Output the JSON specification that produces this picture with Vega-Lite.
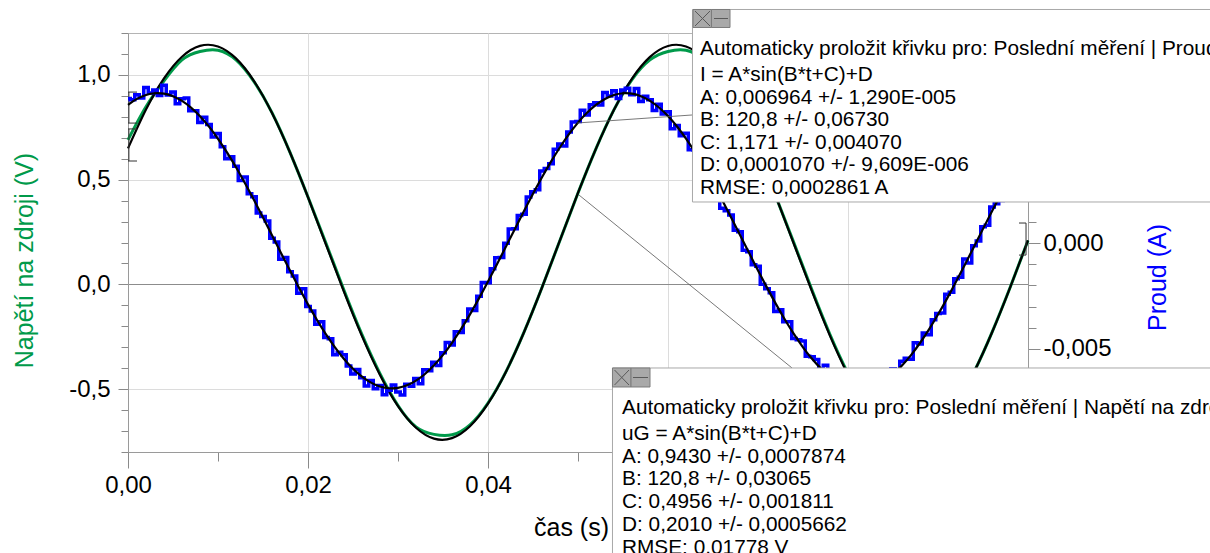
{
"$schema": "https://vega.github.io/schema/vega-lite/v6.json",
"width": 900,
"height": 419,
"autosize": {"type": "none"},
"padding": {"left": 128, "top": 33, "right": 182, "bottom": 101},
"background": "white",
"config": {
  "font": "Liberation Sans",
  "view": {"stroke": "#b4b4b4"},
  "axis": {"labelFont": "Liberation Sans", "titleFont": "Liberation Sans", "labelFontSize": 24, "titleFontSize": 25, "titleFontWeight": "normal", "labelColor": "#000000", "titleColor": "#000000", "tickColor": "#8a8a8a", "domainColor": "#9a9a9a", "gridColor": "#dcdcdc", "gridWidth": 1}
},
"datasets": {
  "volt": [{"t":0,"v":0.690},{"t":0.002,"v":0.848},{"t":0.004,"v":0.972},{"t":0.006,"v":1.072},{"t":0.008,"v":1.112},{"t":0.010,"v":1.118},{"t":0.012,"v":1.072},{"t":0.014,"v":0.968},{"t":0.016,"v":0.820},{"t":0.018,"v":0.630},{"t":0.020,"v":0.417},{"t":0.022,"v":0.196},{"t":0.024,"v":-0.028},{"t":0.026,"v":-0.240},{"t":0.028,"v":-0.426},{"t":0.030,"v":-0.578},{"t":0.032,"v":-0.680},{"t":0.034,"v":-0.716},{"t":0.036,"v":-0.718},{"t":0.038,"v":-0.670},{"t":0.040,"v":-0.566},{"t":0.042,"v":-0.416},{"t":0.044,"v":-0.228},{"t":0.046,"v":-0.015},{"t":0.048,"v":0.211},{"t":0.050,"v":0.436},{"t":0.052,"v":0.648},{"t":0.054,"v":0.834},{"t":0.056,"v":0.978},{"t":0.058,"v":1.072},{"t":0.060,"v":1.112},{"t":0.062,"v":1.118},{"t":0.064,"v":1.072},{"t":0.066,"v":0.968},{"t":0.068,"v":0.819},{"t":0.070,"v":0.631},{"t":0.072,"v":0.418},{"t":0.074,"v":0.197},{"t":0.076,"v":-0.027},{"t":0.078,"v":-0.239},{"t":0.080,"v":-0.425},{"t":0.082,"v":-0.577},{"t":0.084,"v":-0.679},{"t":0.086,"v":-0.716},{"t":0.088,"v":-0.718},{"t":0.090,"v":-0.671},{"t":0.092,"v":-0.566},{"t":0.094,"v":-0.418},{"t":0.096,"v":-0.229},{"t":0.098,"v":-0.016},{"t":0.100,"v":0.210}],
  "vfit": [{"t":0,"v":0.6494},{"t":0.002,"v":0.8349},{"t":0.004,"v":0.9836},{"t":0.006,"v":1.0867},{"t":0.008,"v":1.1384},{"t":0.010,"v":1.1357},{"t":0.012,"v":1.0787},{"t":0.014,"v":0.9707},{"t":0.016,"v":0.8180},{"t":0.018,"v":0.6294},{"t":0.020,"v":0.4160},{"t":0.022,"v":0.1901},{"t":0.024,"v":-0.0352},{"t":0.026,"v":-0.2468},{"t":0.028,"v":-0.4323},{"t":0.030,"v":-0.5812},{"t":0.032,"v":-0.6844},{"t":0.034,"v":-0.7363},{"t":0.036,"v":-0.7338},{"t":0.038,"v":-0.6769},{"t":0.040,"v":-0.5691},{"t":0.042,"v":-0.4166},{"t":0.044,"v":-0.2282},{"t":0.046,"v":-0.0148},{"t":0.048,"v":0.2112},{"t":0.050,"v":0.4365},{"t":0.052,"v":0.6482},{"t":0.054,"v":0.8338},{"t":0.056,"v":0.9827},{"t":0.058,"v":1.0862},{"t":0.060,"v":1.1382},{"t":0.062,"v":1.1359},{"t":0.064,"v":1.0792},{"t":0.066,"v":0.9716},{"t":0.068,"v":0.8191},{"t":0.070,"v":0.6308},{"t":0.072,"v":0.4174},{"t":0.074,"v":0.1916},{"t":0.076,"v":-0.0338},{"t":0.078,"v":-0.2455},{"t":0.080,"v":-0.4313},{"t":0.082,"v":-0.5804},{"t":0.084,"v":-0.6839},{"t":0.086,"v":-0.7362},{"t":0.088,"v":-0.7340},{"t":0.090,"v":-0.6775},{"t":0.092,"v":-0.5700},{"t":0.094,"v":-0.4178},{"t":0.096,"v":-0.2295},{"t":0.098,"v":-0.0162},{"t":0.100,"v":0.2097}],
  "cur": [{"t":0,"i":0.006822},{"t":0.0005,"i":0.006762},{"t":0.001,"i":0.007002},{"t":0.0015,"i":0.006843},{"t":0.002,"i":0.007334},{"t":0.0025,"i":0.007075},{"t":0.003,"i":0.007216},{"t":0.0035,"i":0.006957},{"t":0.004,"i":0.007447},{"t":0.0045,"i":0.006987},{"t":0.005,"i":0.007126},{"t":0.0055,"i":0.006566},{"t":0.006,"i":0.006806},{"t":0.0065,"i":0.006848},{"t":0.007,"i":0.00624},{"t":0.0075,"i":0.006237},{"t":0.008,"i":0.005683},{"t":0.0085,"i":0.005937},{"t":0.009,"i":0.00559},{"t":0.0095,"i":0.005004},{"t":0.01,"i":0.005168},{"t":0.0105,"i":0.004547},{"t":0.011,"i":0.003975},{"t":0.0115,"i":0.004075},{"t":0.012,"i":0.003624},{"t":0.0125,"i":0.002947},{"t":0.013,"i":0.00312},{"t":0.0135,"i":0.002324},{"t":0.014,"i":0.002178},{"t":0.0145,"i":0.001418},{"t":0.015,"i":0.001257},{"t":0.0155,"i":0.001039},{"t":0.016,"i":0.00022},{"t":0.0165,"i":0.00005},{"t":0.017,"i":-0.00077},{"t":0.0175,"i":-0.000686},{"t":0.018,"i":-0.001352},{"t":0.0185,"i":-0.001558},{"t":0.019,"i":-0.002364},{"t":0.0195,"i":-0.002154},{"t":0.02,"i":-0.002993},{"t":0.0205,"i":-0.003211},{"t":0.021,"i":-0.003829},{"t":0.0215,"i":-0.00372},{"t":0.022,"i":-0.00446},{"t":0.0225,"i":-0.004519},{"t":0.023,"i":-0.005277},{"t":0.0235,"i":-0.005149},{"t":0.024,"i":-0.005271},{"t":0.0245,"i":-0.005802},{"t":0.025,"i":-0.006182},{"t":0.0255,"i":-0.005969},{"t":0.026,"i":-0.006356},{"t":0.0265,"i":-0.006746},{"t":0.027,"i":-0.006486},{"t":0.0275,"i":-0.006878},{"t":0.028,"i":-0.006719},{"t":0.0285,"i":-0.007161},{"t":0.029,"i":-0.006952},{"t":0.0295,"i":-0.006693},{"t":0.03,"i":-0.007033},{"t":0.0305,"i":-0.007174},{"t":0.031,"i":-0.006664},{"t":0.0315,"i":-0.006754},{"t":0.032,"i":-0.006394},{"t":0.0325,"i":-0.006637},{"t":0.033,"i":-0.005979},{"t":0.0335,"i":-0.006026},{"t":0.034,"i":-0.005622},{"t":0.0345,"i":-0.005776},{"t":0.035,"i":-0.00518},{"t":0.0355,"i":-0.004695},{"t":0.036,"i":-0.004809},{"t":0.0365,"i":-0.004188},{"t":0.037,"i":-0.004216},{"t":0.0375,"i":-0.003666},{"t":0.038,"i":-0.003115},{"t":0.0385,"i":-0.003189},{"t":0.039,"i":-0.002512},{"t":0.0395,"i":-0.001866},{"t":0.04,"i":-0.001869},{"t":0.0405,"i":-0.001209},{"t":0.041,"i":-0.000698},{"t":0.0415,"i":-0.00068},{"t":0.042,"i":-0.000012},{"t":0.0425,"i":0.000659},{"t":0.043,"i":0.000679},{"t":0.0435,"i":0.001295},{"t":0.044,"i":0.001361},{"t":0.0445,"i":0.002167},{"t":0.045,"i":0.002423},{"t":0.0455,"i":0.002513},{"t":0.046,"i":0.003402},{"t":0.0465,"i":0.00352},{"t":0.047,"i":0.003738},{"t":0.0475,"i":0.004429},{"t":0.048,"i":0.00467},{"t":0.0485,"i":0.004579},{"t":0.049,"i":0.005237},{"t":0.0495,"i":0.005709},{"t":0.05,"i":0.005731},{"t":0.0505,"i":0.006262},{"t":0.051,"i":0.006043},{"t":0.0515,"i":0.00653},{"t":0.052,"i":0.006617},{"t":0.0525,"i":0.006508},{"t":0.053,"i":0.007099},{"t":0.0535,"i":0.006941},{"t":0.054,"i":0.007182},{"t":0.0545,"i":0.006824},{"t":0.055,"i":0.007216},{"t":0.0555,"i":0.007307},{"t":0.056,"i":0.006998},{"t":0.0565,"i":0.007289},{"t":0.057,"i":0.006679},{"t":0.0575,"i":0.00692},{"t":0.058,"i":0.00676},{"t":0.0585,"i":0.006253},{"t":0.059,"i":0.006545},{"t":0.0595,"i":0.006092},{"t":0.06,"i":0.006189},{"t":0.0605,"i":0.005393},{"t":0.061,"i":0.005547},{"t":0.0615,"i":0.005062},{"t":0.062,"i":0.005177},{"t":0.0625,"i":0.004406},{"t":0.063,"i":0.004384},{"t":0.0635,"i":0.003634},{"t":0.064,"i":0.003533},{"t":0.0645,"i":0.003357},{"t":0.065,"i":0.00258},{"t":0.0655,"i":0.002484},{"t":0.066,"i":0.001638},{"t":0.0665,"i":0.001528},{"t":0.067,"i":0.001318},{"t":0.0675,"i":0.0006},{"t":0.068,"i":0.000531},{"t":0.0685,"i":-0.000339},{"t":0.069,"i":-0.000409},{"t":0.0695,"i":-0.001025},{"t":0.07,"i":-0.001091},{"t":0.0705,"i":-0.001948},{"t":0.071,"i":-0.002154},{"t":0.0715,"i":-0.002344},{"t":0.072,"i":-0.003233},{"t":0.0725,"i":-0.003152},{"t":0.073,"i":-0.00372},{"t":0.0735,"i":-0.003711},{"t":0.074,"i":-0.004502},{"t":0.0745,"i":-0.004561},{"t":0.075,"i":-0.004619},{"t":0.0755,"i":-0.005342},{"t":0.076,"i":-0.005364},{"t":0.0765,"i":-0.005495},{"t":0.077,"i":-0.006176},{"t":0.0775,"i":-0.005764},{"t":0.078,"i":-0.006251},{"t":0.0785,"i":-0.006542},{"t":0.079,"i":-0.006333},{"t":0.0795,"i":-0.006525},{"t":0.08,"i":-0.006817},{"t":0.0805,"i":-0.006509},{"t":0.081,"i":-0.006751},{"t":0.0815,"i":-0.007043},{"t":0.082,"i":-0.006634},{"t":0.0825,"i":-0.006725},{"t":0.083,"i":-0.006366},{"t":0.0835,"i":-0.006707},{"t":0.084,"i":-0.006348},{"t":0.0845,"i":-0.006341},{"t":0.085,"i":-0.005934},{"t":0.0855,"i":-0.006131},{"t":0.086,"i":-0.005578},{"t":0.0865,"i":-0.005433},{"t":0.087,"i":-0.005487},{"t":0.0875,"i":-0.004702},{"t":0.088,"i":-0.004767},{"t":0.0885,"i":-0.004246},{"t":0.089,"i":-0.004325},{"t":0.0895,"i":-0.003625},{"t":0.09,"i":-0.003324},{"t":0.0905,"i":-0.003298},{"t":0.091,"i":-0.002422},{"t":0.0915,"i":-0.002326},{"t":0.092,"i":-0.00168},{"t":0.0925,"i":-0.00162},{"t":0.093,"i":-0.000759},{"t":0.0935,"i":-0.000941},{"t":0.094,"i":-0.000123},{"t":0.0945,"i":0.000098},{"t":0.095,"i":0.000768},{"t":0.0955,"i":0.000834},{"t":0.096,"i":0.0017},{"t":0.0965,"i":0.001856},{"t":0.097,"i":0.002012},{"t":0.0975,"i":0.002852},{"t":0.098,"i":0.002992},{"t":0.0985,"i":0.003661},{"t":0.099,"i":0.003629},{"t":0.0995,"i":0.00422},{"t":0.1,"i":0.004611}],
  "ifit": [{"t":0,"i":0.006522},{"t":0.001,"i":0.006802},{"t":0.002,"i":0.006984},{"t":0.003,"i":0.007066},{"t":0.004,"i":0.007047},{"t":0.005,"i":0.006926},{"t":0.006,"i":0.006706},{"t":0.007,"i":0.00639},{"t":0.008,"i":0.005983},{"t":0.009,"i":0.00549},{"t":0.01,"i":0.004918},{"t":0.011,"i":0.004275},{"t":0.012,"i":0.003574},{"t":0.013,"i":0.00282},{"t":0.014,"i":0.002028},{"t":0.015,"i":0.001207},{"t":0.016,"i":0.00037},{"t":0.017,"i":-0.00047},{"t":0.018,"i":-0.001302},{"t":0.019,"i":-0.002114},{"t":0.02,"i":-0.002893},{"t":0.021,"i":-0.003629},{"t":0.022,"i":-0.00431},{"t":0.023,"i":-0.004927},{"t":0.024,"i":-0.005471},{"t":0.025,"i":-0.005932},{"t":0.026,"i":-0.006306},{"t":0.027,"i":-0.006586},{"t":0.028,"i":-0.006769},{"t":0.029,"i":-0.006852},{"t":0.03,"i":-0.006833},{"t":0.031,"i":-0.006714},{"t":0.032,"i":-0.006494},{"t":0.033,"i":-0.006179},{"t":0.034,"i":-0.005772},{"t":0.035,"i":-0.00528},{"t":0.036,"i":-0.004709},{"t":0.037,"i":-0.004066},{"t":0.038,"i":-0.003365},{"t":0.039,"i":-0.002612},{"t":0.04,"i":-0.001819},{"t":0.041,"i":-0.000998},{"t":0.042,"i":-0.000162},{"t":0.043,"i":0.000679},{"t":0.044,"i":0.001511},{"t":0.045,"i":0.002323},{"t":0.046,"i":0.003102},{"t":0.047,"i":0.003838},{"t":0.048,"i":0.00452},{"t":0.049,"i":0.005137},{"t":0.05,"i":0.005681},{"t":0.051,"i":0.006143},{"t":0.052,"i":0.006517},{"t":0.053,"i":0.006799},{"t":0.054,"i":0.006982},{"t":0.055,"i":0.007066},{"t":0.056,"i":0.007048},{"t":0.057,"i":0.006929},{"t":0.058,"i":0.00671},{"t":0.059,"i":0.006395},{"t":0.06,"i":0.005989},{"t":0.061,"i":0.005497},{"t":0.062,"i":0.004927},{"t":0.063,"i":0.004284},{"t":0.064,"i":0.003583},{"t":0.065,"i":0.00283},{"t":0.066,"i":0.002038},{"t":0.067,"i":0.001218},{"t":0.068,"i":0.000381},{"t":0.069,"i":-0.000459},{"t":0.07,"i":-0.001291},{"t":0.071,"i":-0.002104},{"t":0.072,"i":-0.002883},{"t":0.073,"i":-0.00362},{"t":0.074,"i":-0.004302},{"t":0.075,"i":-0.004919},{"t":0.076,"i":-0.005464},{"t":0.077,"i":-0.005926},{"t":0.078,"i":-0.006301},{"t":0.079,"i":-0.006583},{"t":0.08,"i":-0.006767},{"t":0.081,"i":-0.006851},{"t":0.082,"i":-0.006834},{"t":0.083,"i":-0.006716},{"t":0.084,"i":-0.006498},{"t":0.085,"i":-0.006184},{"t":0.086,"i":-0.005778},{"t":0.087,"i":-0.005287},{"t":0.088,"i":-0.004717},{"t":0.089,"i":-0.004075},{"t":0.09,"i":-0.003374},{"t":0.091,"i":-0.002622},{"t":0.092,"i":-0.00183},{"t":0.093,"i":-0.001009},{"t":0.094,"i":-0.000173},{"t":0.095,"i":0.000668},{"t":0.096,"i":0.0015},{"t":0.097,"i":0.002312},{"t":0.098,"i":0.003092},{"t":0.099,"i":0.003829},{"t":0.1,"i":0.004511}],
  "brackets": [{"a":0,"b":0.001,"c":0.918,"d":0.918},{"a":0.0001,"b":0.0001,"c":0.918,"d":0.770},{"a":0,"b":0.001,"c":0.770,"d":0.770},{"a":0,"b":0.001,"c":0.742,"d":0.742},{"a":0.0001,"b":0.0001,"c":0.742,"d":0.589},{"a":0,"b":0.001,"c":0.589,"d":0.589},{"a":0.0990,"b":0.09978,"c":0.293,"d":0.293},{"a":0.09978,"b":0.09978,"c":0.293,"d":0.140},{"a":0.0990,"b":0.09978,"c":0.140,"d":0.140}],
  "leaders": [{"a":0.04989,"b":0.06267,"c":0.005664,"d":0.006041},{"a":0.05011,"b":0.07378,"c":0.002266,"d":-0.005896}],
  "boxes": [{"a":0.06272,"b":0.1213,"c":0.011019,"d":0.001936},{"a":0.05383,"b":0.12133,"c":-0.005896,"d":-0.014956}],
  "icons": [{"a":0.06278,"b":0.06483,"c":0.011019,"d":0.010170},{"a":0.06483,"b":0.06689,"c":0.011019,"d":0.010170},{"a":0.05383,"b":0.05589,"c":-0.005896,"d":-0.006793},{"a":0.05589,"b":0.05800,"c":-0.005896,"d":-0.006793}],
  "iconlines": [{"a":0.06300,"b":0.06467,"c":0.010948,"d":0.010240},{"a":0.06300,"b":0.06467,"c":0.010240,"d":0.010948},{"a":0.06511,"b":0.06667,"c":0.010594,"d":0.010594},{"a":0.05406,"b":0.05567,"c":-0.005991,"d":-0.006699},{"a":0.05406,"b":0.05567,"c":-0.006699,"d":-0.005991},{"a":0.05611,"b":0.05778,"c":-0.006345,"d":-0.006345}]
},
"layer": [
    {"data": {"name": "volt"},
     "mark": {"type": "line", "color": "#009a4a", "strokeWidth": 3, "interpolate": "natural"},
     "encoding": {
       "x": {"field": "t", "type": "quantitative", "scale": {"domain": [0, 0.1], "nice": false, "zero": false},
         "axis": {"values": [0,0.01,0.02,0.03,0.04,0.05,0.06,0.07,0.08,0.09,0.1], "title": "čas (s)", "titleX": 443, "titleY": 75, "titleAlign": "center", "titleBaseline": "middle",
           "labelExpr": "abs(datum.value*50 - round(datum.value*50)) < 0.001 ? replace(format(datum.value, '.2f'), '.', ',') : ''",
           "labelFlush": false, "labelOverlap": false, "labelPadding": 5,
           "tickSize": {"condition": {"test": "abs(datum.value*50 - round(datum.value*50)) < 0.001", "value": 16}, "value": 9},
           "grid": true,
           "gridOpacity": {"condition": {"test": "abs(datum.value*50 - round(datum.value*50)) < 0.001", "value": 1}, "value": 0}}},
       "y": {"field": "v", "type": "quantitative", "scale": {"domain": [-0.8, 1.2], "nice": false, "zero": false},
         "axis": {"orient": "left", "values": [-0.8,-0.7,-0.6,-0.5,-0.4,-0.3,-0.2,-0.1,0,0.1,0.2,0.3,0.4,0.5,0.6,0.7,0.8,0.9,1,1.1,1.2],
           "title": "Napětí na zdroji (V)", "titleColor": "#009a4a", "titleAngle": 270, "titleX": -104, "titleY": 227, "titleAlign": "center", "titleBaseline": "middle",
           "labelExpr": "abs(datum.value*2 - round(datum.value*2)) < 0.001 ? (datum.value < -0.001 ? '-' : '') + replace(format(abs(datum.value), '.1f'), '.', ',') : ''",
           "labelOverlap": false, "labelPadding": 8,
           "tickSize": {"condition": {"test": "abs(datum.value*2 - round(datum.value*2)) < 0.001", "value": 10}, "value": 7},
           "grid": true,
           "gridOpacity": {"condition": {"test": "abs(datum.value*2 - round(datum.value*2)) < 0.001", "value": 1}, "value": 0},
           "gridColor": {"condition": {"test": "abs(datum.value) < 0.001", "value": "#8c8c8c"}, "value": "#dcdcdc"}}}
     }},
    {"data": {"name": "vfit"},
     "mark": {"type": "line", "color": "#000000", "strokeWidth": 2.2, "interpolate": "natural"},
     "encoding": {
       "x": {"field": "t", "type": "quantitative", "scale": {"domain": [0, 0.1], "nice": false, "zero": false}},
       "y": {"field": "v", "type": "quantitative", "scale": {"domain": [-0.8, 1.2], "nice": false, "zero": false}, "axis": null}}},
    {"data": {"name": "brackets"},
     "mark": {"type": "rule", "color": "#333333", "strokeWidth": 1},
     "encoding": {
       "x": {"field": "a", "type": "quantitative", "scale": {"domain": [0, 0.1], "nice": false, "zero": false}},
       "x2": {"field": "b"},
       "y": {"field": "c", "type": "quantitative", "scale": {"domain": [-0.8, 1.2], "nice": false, "zero": false}, "axis": null},
       "y2": {"field": "d"}}},
    {"data": {"name": "cur"},
     "mark": {"type": "line", "color": "#0000ff", "strokeWidth": 3.5, "interpolate": "step"},
     "encoding": {
       "x": {"field": "t", "type": "quantitative", "scale": {"domain": [0, 0.1], "nice": false, "zero": false}},
       "y": {"field": "i", "type": "quantitative", "scale": {"domain": [-0.00986, 0.00991], "nice": false, "zero": false},
         "axis": {"orient": "right", "values": [-0.009,-0.008,-0.007,-0.006,-0.005,-0.004,-0.003,-0.002,-0.001,0,0.001,0.002,0.003,0.004,0.005,0.006,0.007,0.008,0.009],
           "title": "Proud (A)", "titleColor": "#0000ff", "titleAngle": 270, "titleX": 129, "titleY": 244, "titleAlign": "center", "titleBaseline": "middle",
           "labelExpr": "abs(datum.value*200 - round(datum.value*200)) < 0.001 ? (datum.value < -0.0001 ? '-' : '') + replace(format(abs(datum.value), '.3f'), '.', ',') : ''",
           "labelOverlap": false, "labelPadding": 3,
           "tickSize": {"condition": {"test": "abs(datum.value*200 - round(datum.value*200)) < 0.001", "value": 12}, "value": 8},
           "grid": false}}}},
    {"data": {"name": "ifit"},
     "mark": {"type": "line", "color": "#000000", "strokeWidth": 2.2, "interpolate": "natural"},
     "encoding": {
       "x": {"field": "t", "type": "quantitative", "scale": {"domain": [0, 0.1], "nice": false, "zero": false}},
       "y": {"field": "i", "type": "quantitative", "scale": {"domain": [-0.00986, 0.00991], "nice": false, "zero": false}, "axis": null}}},
    {"data": {"name": "leaders"},
     "mark": {"type": "rule", "color": "#555555", "strokeWidth": 0.8},
     "encoding": {
       "x": {"field": "a", "type": "quantitative", "scale": {"domain": [0, 0.1], "nice": false, "zero": false}},
       "x2": {"field": "b"},
       "y": {"field": "c", "type": "quantitative", "scale": {"domain": [-0.00986, 0.00991], "nice": false, "zero": false}, "axis": null},
       "y2": {"field": "d"}}},
    {"data": {"name": "boxes"},
     "mark": {"type": "rect", "fill": "#ffffff", "stroke": "#a8a8a8", "strokeWidth": 1},
     "encoding": {
       "x": {"field": "a", "type": "quantitative", "scale": {"domain": [0, 0.1], "nice": false, "zero": false}},
       "x2": {"field": "b"},
       "y": {"field": "c", "type": "quantitative", "scale": {"domain": [-0.00986, 0.00991], "nice": false, "zero": false}, "axis": null},
       "y2": {"field": "d"}}},
    {"data": {"name": "icons"},
     "mark": {"type": "rect", "fill": "#a9a9a9", "stroke": "#7c7c7c", "strokeWidth": 1},
     "encoding": {
       "x": {"field": "a", "type": "quantitative", "scale": {"domain": [0, 0.1], "nice": false, "zero": false}},
       "x2": {"field": "b"},
       "y": {"field": "c", "type": "quantitative", "scale": {"domain": [-0.00986, 0.00991], "nice": false, "zero": false}, "axis": null},
       "y2": {"field": "d"}}},
    {"data": {"name": "iconlines"},
     "mark": {"type": "rule", "color": "#5a5a5a", "strokeWidth": 1},
     "encoding": {
       "x": {"field": "a", "type": "quantitative", "scale": {"domain": [0, 0.1], "nice": false, "zero": false}},
       "x2": {"field": "b"},
       "y": {"field": "c", "type": "quantitative", "scale": {"domain": [-0.00986, 0.00991], "nice": false, "zero": false}, "axis": null},
       "y2": {"field": "d"}}},
    {"data": {"values": [{}]},
     "mark": {"type": "text", "align": "left", "baseline": "alphabetic", "fontSize": 20.8, "font": "Liberation Sans", "color": "#000000",
       "text": "Automaticky proložit křivku pro: Poslední měření | Proud (A)"},
     "encoding": {
       "x": {"datum": 0.06356, "type": "quantitative", "scale": {"domain": [0, 0.1], "nice": false, "zero": false}},
       "y": {"datum": 0.008872, "type": "quantitative", "scale": {"domain": [-0.00986, 0.00991], "nice": false, "zero": false}, "axis": null}}},
    {"data": {"values": [{}]},
     "mark": {"type": "text", "align": "left", "baseline": "alphabetic", "fontSize": 20.8, "font": "Liberation Sans", "color": "#000000", "lineHeight": 22.5,
       "text": ["I = A*sin(B*t+C)+D", "A: 0,006964 +/- 1,290E-005", "B: 120,8 +/- 0,06730", "C: 1,171 +/- 0,004070", "D: 0,0001070 +/- 9,609E-006", "RMSE: 0,0002861 A"]},
     "encoding": {
       "x": {"datum": 0.06356, "type": "quantitative", "scale": {"domain": [0, 0.1], "nice": false, "zero": false}},
       "y": {"datum": 0.007645, "type": "quantitative", "scale": {"domain": [-0.00986, 0.00991], "nice": false, "zero": false}, "axis": null}}},
    {"data": {"values": [{}]},
     "mark": {"type": "text", "align": "left", "baseline": "alphabetic", "fontSize": 20.8, "font": "Liberation Sans", "color": "#000000",
       "text": "Automaticky proložit křivku pro: Poslední měření | Napětí na zdroji (V)"},
     "encoding": {
       "x": {"datum": 0.05489, "type": "quantitative", "scale": {"domain": [0, 0.1], "nice": false, "zero": false}},
       "y": {"datum": -0.008067, "type": "quantitative", "scale": {"domain": [-0.00986, 0.00991], "nice": false, "zero": false}, "axis": null}}},
    {"data": {"values": [{}]},
     "mark": {"type": "text", "align": "left", "baseline": "alphabetic", "fontSize": 20.8, "font": "Liberation Sans", "color": "#000000", "lineHeight": 22.7,
       "text": ["uG = A*sin(B*t+C)+D", "A: 0,9430 +/- 0,0007874", "B: 120,8 +/- 0,03065", "C: 0,4956 +/- 0,001811", "D: 0,2010 +/- 0,0005662", "RMSE: 0,01778 V"]},
     "encoding": {
       "x": {"datum": 0.05489, "type": "quantitative", "scale": {"domain": [0, 0.1], "nice": false, "zero": false}},
       "y": {"datum": -0.009294, "type": "quantitative", "scale": {"domain": [-0.00986, 0.00991], "nice": false, "zero": false}, "axis": null}}}
],
"resolve": {"scale": {"y": "independent"}}
}
